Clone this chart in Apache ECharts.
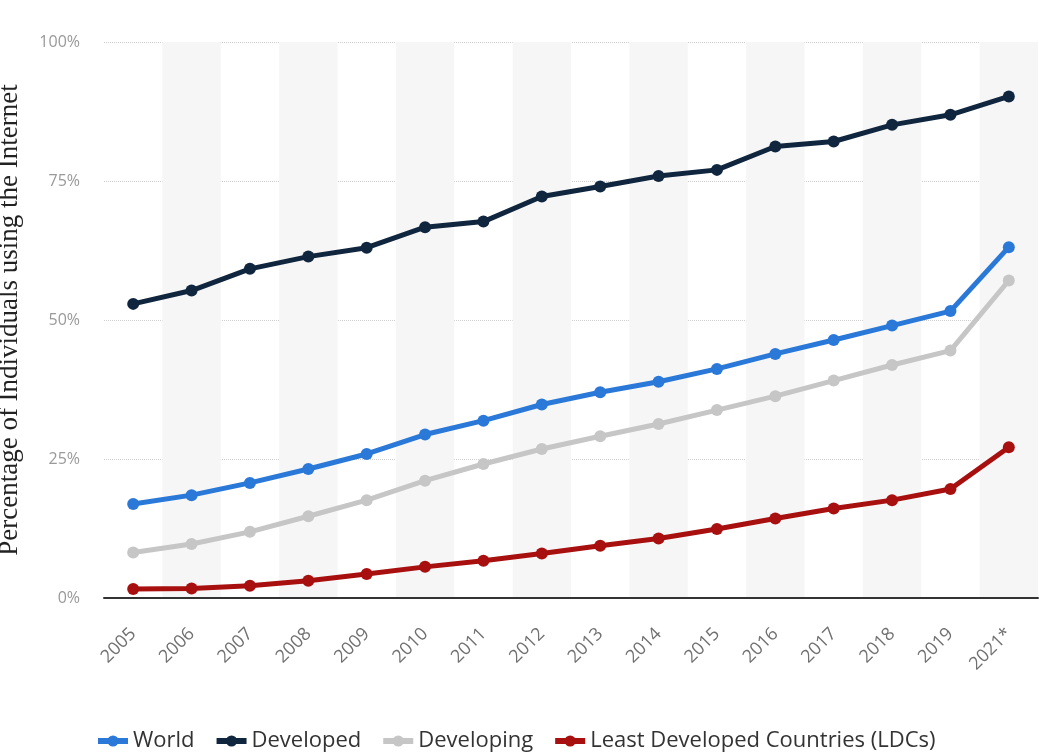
<!DOCTYPE html>
<html>
<head>
<meta charset="utf-8">
<script src="https://cdn.jsdelivr.net/npm/echarts@6/dist/echarts.min.js"></script>
<style>
  html, body { margin: 0; padding: 0; background: #ffffff; }
  #chart { width: 1039px; height: 752px; }
</style>
</head>
<body>
<div id="chart"></div>
<script>
// Share of individuals using the Internet, by development status (%)
const years = ['2005', '2006', '2007', '2008', '2009', '2010', '2011', '2012',
               '2013', '2014', '2015', '2016', '2017', '2018', '2019', '2021*'];
const world      = [16.9, 18.5, 20.7, 23.2, 25.9, 29.4, 31.9, 34.8, 37.0, 38.9, 41.2, 43.9, 46.4, 49.0, 51.6, 63.1];
const developed  = [52.9, 55.3, 59.2, 61.4, 63.0, 66.7, 67.7, 72.2, 74.0, 75.9, 77.0, 81.2, 82.1, 85.1, 86.9, 90.2];
const developing = [8.2, 9.7, 11.9, 14.7, 17.6, 21.1, 24.1, 26.8, 29.1, 31.3, 33.8, 36.3, 39.1, 41.9, 44.5, 57.1];
const ldcs       = [1.6, 1.7, 2.2, 3.1, 4.3, 5.6, 6.7, 8.0, 9.4, 10.7, 12.4, 14.3, 16.1, 17.6, 19.6, 27.1];
const yTicks = [0, 25, 50, 75, 100];

const seriesDefs = [
  { name: 'World', data: world, color: '#2a78d8' },
  { name: 'Developed', data: developed, color: '#10263f' },
  { name: 'Developing', data: developing, color: '#c6c6c6' },
  { name: 'Least Developed Countries (LDCs)', data: ldcs, color: '#a80f0f' }
];

const chart = echarts.init(document.getElementById('chart'));
chart.setOption({
  animation: false,
  grid: { left: 104, right: 1, top: 42, bottom: 154, containLabel: false, outerBoundsMode: 'none' },
  legend: {
    top: 725,
    left: 90,
    itemWidth: 30,
    itemHeight: 14,
    itemGap: 19,
    lineStyle: { width: 6 },
    textStyle: { fontFamily: 'Open Sans', fontSize: 22, color: '#333' },
    data: seriesDefs.map(s => s.name)
  },
  xAxis: {
    type: 'category',
    data: years,
    boundaryGap: true,
    axisLine: { show: true, lineStyle: { color: '#333', width: 2 } },
    axisTick: { show: false },
    axisLabel: {
      rotate: 45,
      interval: 0,
      margin: 33,
      fontFamily: 'Open Sans',
      fontSize: 18,
      color: '#707070'
    },
    splitLine: { show: false },
    splitArea: { show: true, areaStyle: { color: ['rgba(255,255,255,0)', '#f6f6f6'] } }
  },
  yAxis: {
    type: 'value',
    min: 0,
    max: 100,
    interval: 25,
    name: 'Percentage of Individuals using the Internet',
    nameLocation: 'middle',
    nameGap: 81,
    nameRotate: 90,
    nameTextStyle: { fontFamily: 'Liberation Serif', fontSize: 27, color: '#222' },
    axisLine: { show: false },
    axisTick: { show: false },
    axisLabel: {
      margin: 24,
      fontFamily: 'Open Sans',
      fontSize: 16,
      color: '#999',
      customValues: yTicks,
      formatter: v => v + '%'
    },
    splitLine: { show: true, lineStyle: { color: '#cfcfcf', type: 'dotted', width: 1 } }
  },
  series: seriesDefs.map(s => ({
    name: s.name,
    type: 'line',
    data: s.data,
    symbol: 'circle',
    symbolSize: 12,
    lineStyle: { width: 5, color: s.color },
    itemStyle: { color: s.color },
    z: 3
  }))
});
</script>
</body>
</html>
